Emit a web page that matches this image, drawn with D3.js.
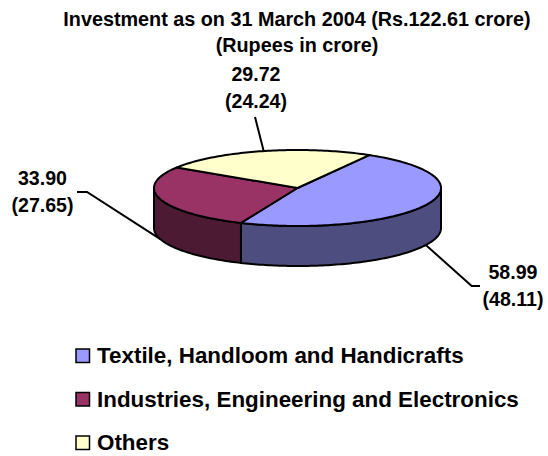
<!DOCTYPE html>
<html>
<head>
<meta charset="utf-8">
<script src="https://cdn.jsdelivr.net/npm/d3@7"></script>
<style>
  body { margin: 0; background: #fff; }
  svg { display: block; font-family: "Liberation Sans", Arial, sans-serif; font-weight: bold; }
</style>
</head>
<body>
<svg id="chart" width="548" height="456"></svg>
<script>
var categories = ["Textile, Handloom and Handicrafts", "Industries, Engineering and Electronics", "Others"]
var values = [58.99, 33.90, 29.72]
var percents = [48.11, 27.65, 24.24]
var topColors = ["#9999FF", "#993366", "#FFFFCC"]
var sideColors = ["#4D4D80", "#4D1A33", "#808066"]
var titleLines = ["Investment as on 31 March 2004 (Rs.122.61 crore)", "(Rupees in crore)"]

var dims = { width: 548, height: 456 }
var pieGeo = { cx: 297.5, cy: 188, rx: 143.5, ry: 38, depth: 40 }

// label placement (text center x, first baseline y) and leader elbows
var labelPos = [
    { x: 513, y: 279, elbow: [[471.7, 286], [480, 286]] },
    { x: 42.5, y: 185, elbow: [[87, 192], [77, 192]] },
    { x: 256, y: 81, elbow: [[255, 117]] }
]

var svg = d3.select("#chart")

svg.selectAll("text.title")
    .data(titleLines)
    .enter()
    .append("text")
    .attr("class", "title")
    .attr("x", 297)
    .attr("y", (d, i) => 25.7 + i * 26.3)
    .attr("text-anchor", "middle")
    .attr("font-size", "19.8px")
    .text(d => d)

var data = categories.map(function (c, i) {
    return { name: c, value: values[i], pct: percents[i], i: i }
})

var pie = d3.pie()
    .sort(null)
    .value(d => d.value)
    .startAngle(Math.PI / 6)
    .endAngle(Math.PI / 6 + 2 * Math.PI)

var arcs = pie(data)

// ellipse projection of a pie angle (0 at 12 o'clock, clockwise)
var sx = d3.scaleLinear().domain([-1, 1]).range([pieGeo.cx - pieGeo.rx, pieGeo.cx + pieGeo.rx])
var sy = d3.scaleLinear().domain([-1, 1]).range([pieGeo.cy + pieGeo.ry, pieGeo.cy - pieGeo.ry])

function pt(a, dy) {
    return [sx(Math.sin(a)), sy(Math.cos(a)) + (dy || 0)]
}

function arcPoints(a0, a1, dy) {
    var n = Math.max(2, Math.ceil(Math.abs(a1 - a0) / 0.02))
    return d3.range(n + 1).map(k => pt(a0 + (a1 - a0) * k / n, dy))
}

var line = d3.line()

// side walls (front half only: angles between PI/2 and 3PI/2)
var sides = svg.append("g")
arcs.forEach(function (d) {
    var segs = [[d.startAngle, d.endAngle], [d.startAngle - 2 * Math.PI, d.endAngle - 2 * Math.PI]]
    segs.forEach(function (s) {
        var a0 = Math.max(s[0], Math.PI / 2)
        var a1 = Math.min(s[1], 3 * Math.PI / 2)
        if (a1 <= a0) return
        var pts = arcPoints(a0, a1, 0).concat(arcPoints(a1, a0, pieGeo.depth))
        sides.append("path")
            .attr("d", line(pts) + "Z")
            .attr("fill", sideColors[d.data.i])
            .attr("stroke", "#000")
            .attr("stroke-width", 2)
            .attr("stroke-linejoin", "round")
    })
})

// top faces
svg.append("g")
    .selectAll("path")
    .data(arcs)
    .enter()
    .append("path")
    .attr("d", d => line([[pieGeo.cx, pieGeo.cy]].concat(arcPoints(d.startAngle, d.endAngle, 0))) + "Z")
    .attr("fill", d => topColors[d.data.i])
    .attr("stroke", "#000")
    .attr("stroke-width", 2)
    .attr("stroke-linejoin", "round")

// leader lines and labels
arcs.forEach(function (d, i) {
    var mid = (d.startAngle + d.endAngle) / 2
    var front = Math.cos(mid) < 0
    var anchor = pt(mid, front ? pieGeo.depth : 0)
    svg.append("path")
        .attr("d", line([anchor].concat(labelPos[i].elbow)))
        .attr("fill", "none")
        .attr("stroke", "#000")
        .attr("stroke-width", 2)

    var t = svg.append("text")
        .attr("text-anchor", "middle")
        .attr("font-size", "19.6px")
    t.append("tspan").attr("x", labelPos[i].x).attr("y", labelPos[i].y).text(d3.format(".2f")(d.data.value))
    t.append("tspan").attr("x", labelPos[i].x).attr("y", labelPos[i].y + 26.5).text("(" + d3.format(".2f")(d.data.pct) + ")")
})

// legend
var legend = svg.append("g")
    .selectAll("g")
    .data(data)
    .enter()
    .append("g")
    .attr("transform", (d, i) => "translate(76," + (349 + i * 43.5) + ")")

legend.append("rect")
    .attr("width", 13.5)
    .attr("height", 13.5)
    .attr("fill", d => topColors[d.i])
    .attr("stroke", "#000")
    .attr("stroke-width", 1.5)

legend.append("text")
    .attr("x", 21)
    .attr("y", 14)
    .attr("font-size", "22.4px")
    .text(d => d.name)
</script>
</body>
</html>
